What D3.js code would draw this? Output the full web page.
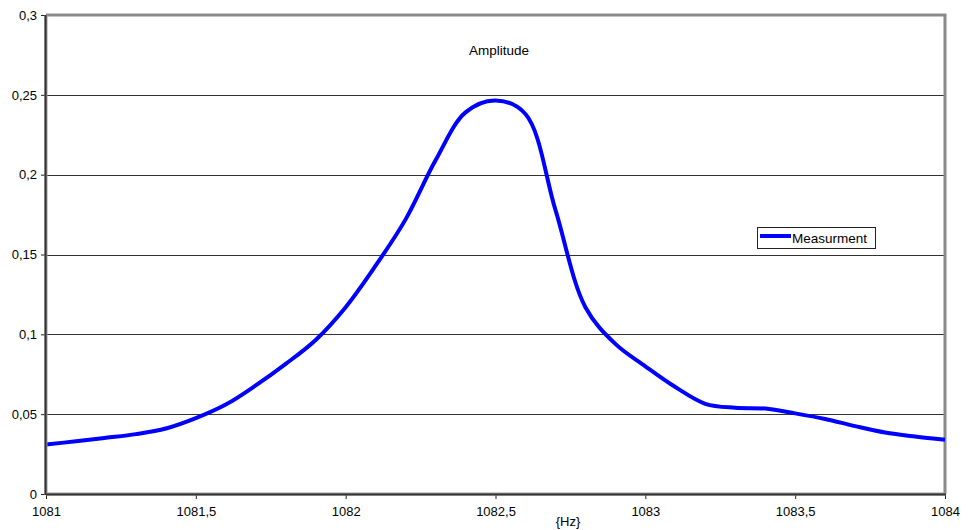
<!DOCTYPE html>
<html>
<head>
<meta charset="utf-8">
<script src="https://cdn.jsdelivr.net/npm/d3@7/dist/d3.min.js"></script>
<style>
  html, body { margin: 0; padding: 0; background: #fff; }
  svg { display: block; font-family: "Liberation Sans", Arial, sans-serif; }
</style>
</head>
<body>
<svg id="chart" width="968" height="530"></svg>
<script>
// ---- data ----
const freqs = [1081.0,1081.1,1081.2,1081.3,1081.4,1081.5,1081.6,1081.7,1081.8,1081.9,
               1082.0,1082.1,1082.2,1082.3,1082.4,1082.5,1082.6,1082.7,1082.8,1082.9,
               1083.0,1083.1,1083.2,1083.3,1083.4,1083.5,1083.6,1083.7,1083.8,1083.9,1084.0];
const amplitude = [0.0310,0.0330,0.0352,0.0375,0.0410,0.0475,0.0560,0.0680,0.0815,0.0965,
                   0.1170,0.1430,0.1720,0.2090,0.2390,0.2465,0.2380,0.1780,0.1170,0.0940,
                   0.0800,0.0670,0.0565,0.0540,0.0535,0.0505,0.0470,0.0425,0.0385,0.0360,0.0340];
const xTicks = [1081, 1081.5, 1082, 1082.5, 1083, 1083.5, 1084];
const yTicks = [0, 0.05, 0.1, 0.15, 0.2, 0.25, 0.3];
const seriesName = "Measurment";
const chartTitle = "Amplitude";
const xTitle = "{Hz}";

const svg = d3.select("#chart");
const L = 46, R = 945, T = 15, B = 494;
const x = d3.scaleLinear().domain([1081, 1084]).range([L, R]);
const y = d3.scaleLinear().domain([0, 0.3]).range([B, T]);
const fmt = v => String(+v.toFixed(2)).replace(".", ",");

// gridlines
svg.append("g").selectAll("line").data(yTicks.filter(v => v > 0 && v < 0.3)).join("line")
  .attr("x1", L).attr("x2", R).attr("y1", d => Math.round(y(d)) + 0.5).attr("y2", d => Math.round(y(d)) + 0.5)
  .attr("stroke", "#333").attr("stroke-width", 1);

// top/right border
svg.append("path")
  .attr("d", `M${L},${T}H${R}V${B}`)
  .attr("fill", "none").attr("stroke", "#8a8a8a").attr("stroke-width", 3);

// curve
const pts = freqs.map((f, i) => [f, amplitude[i]]);
svg.append("path").datum(pts)
  .attr("d", d3.line().x(d => x(d[0])).y(d => y(d[1])).curve(d3.curveCatmullRom.alpha(0.5)))
  .attr("fill", "none").attr("stroke", "#0000ff").attr("stroke-width", 4).attr("stroke-linejoin", "round");

// axes
const yAxis = d3.axisLeft(y).tickValues(yTicks).tickFormat(fmt).tickSize(5).tickPadding(4);
const gy = svg.append("g").attr("transform", `translate(${L},0)`).call(yAxis);
const xAxis = d3.axisBottom(x).tickValues(xTicks).tickFormat(fmt).tickSize(5).tickPadding(8);
const gx = svg.append("g").attr("transform", `translate(0,${B})`).call(xAxis);
[gy, gx].forEach(g => {
  g.select(".domain").remove();
  g.selectAll("line").attr("stroke", "#222");
  g.selectAll("text").attr("font-size", 13).attr("fill", "#000")
    .attr("font-family", "'Liberation Sans', Arial, sans-serif");
});
// axis lines (thick, shaded)
svg.append("line").attr("x1", L).attr("x2", L).attr("y1", T).attr("y2", B + 1)
  .attr("stroke", "#999").attr("stroke-width", 3);
svg.append("line").attr("x1", L - 0.5).attr("x2", L - 0.5).attr("y1", T).attr("y2", B + 1)
  .attr("stroke", "#333").attr("stroke-width", 2);
svg.append("line").attr("x1", L).attr("x2", R + 1).attr("y1", B).attr("y2", B)
  .attr("stroke", "#999").attr("stroke-width", 3);
svg.append("line").attr("x1", L).attr("x2", R + 1).attr("y1", B + 0.5).attr("y2", B + 0.5)
  .attr("stroke", "#333").attr("stroke-width", 2);

// title
svg.append("text").attr("x", 499).attr("y", 55).attr("text-anchor", "middle")
  .attr("font-size", 13.5).text(chartTitle);
// x axis title
svg.append("text").attr("x", 568).attr("y", 526).attr("text-anchor", "middle")
  .attr("font-size", 13).text(xTitle);

// legend
const lg = svg.append("g").attr("transform", "translate(757,227)");
lg.append("rect").attr("x", 0.5).attr("y", 0.5).attr("width", 118).attr("height", 21)
  .attr("fill", "#fff").attr("stroke", "#222").attr("stroke-width", 1);
lg.append("line").attr("x1", 3).attr("x2", 34).attr("y1", 9).attr("y2", 9)
  .attr("stroke", "#0000ff").attr("stroke-width", 4);
lg.append("text").attr("x", 35).attr("y", 16).attr("font-size", 13.5).text(seriesName);
</script>
</body>
</html>
